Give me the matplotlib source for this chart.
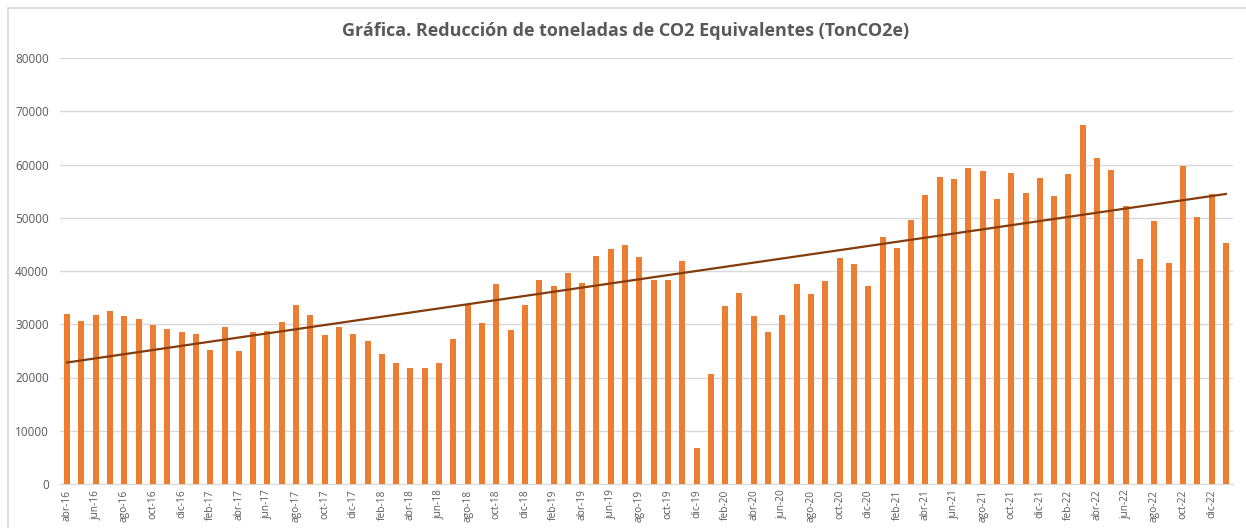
import numpy as np
import matplotlib
matplotlib.use('Agg')
from matplotlib import pyplot as plt
from matplotlib.patches import Rectangle

# monthly labels abr-16 .. ene-23
meses = ['ene', 'feb', 'mar', 'abr', 'may', 'jun', 'jul', 'ago', 'sep', 'oct', 'nov', 'dic']
etiquetas = []
for anio in range(16, 24):
    for m, mes in enumerate(meses):
        if (anio == 16 and m < 3) or (anio == 23 and m > 0):
            continue
        etiquetas.append('%s-%d' % (mes, anio))

# TonCO2e per month
valores = [31900, 30700, 31700, 32400, 31500, 30900, 29900, 29200, 28500,
           28100, 25100, 29500, 24900, 28500, 28700, 30500, 33600, 31800, 28000, 29500, 28100,
           26900, 24400, 22800, 21700, 21800, 22800, 27300, 33700, 30300, 37600, 29000, 33600,
           38400, 37200, 39700, 37800, 42900, 44100, 44900, 42600, 38400, 38400, 41900, 6800,
           20600, 33400, 35900, 31500, 28600, 31700, 37600, 35600, 38100, 42400, 41300, 37200,
           46400, 44400, 49500, 54200, 57700, 57300, 59400, 58800, 53600, 58400, 54700, 57400,
           54000, 58200, 67500, 61300, 59000, 52300, 42300, 49300, 41500, 59700, 50100, 54500,
           45300]

y_ticks = [0, 10000, 20000, 30000, 40000, 50000, 60000, 70000, 80000]
titulo = 'Gráfica. Reducción de toneladas de CO2 Equivalentes (TonCO2e)'

plt.rcParams['font.family'] = ['Open Sans', 'DejaVu Sans']

fig = plt.figure(figsize=(12.46, 5.28), dpi=100)
W, H = 1246, 528

# chart border (only top/left visible in the reference)
fig.patches.append(Rectangle((8 / W, -0.1), 1.2, 1 - 8 / H + 0.1, transform=fig.transFigure,
                             fill=False, edgecolor='#D9D9D9', linewidth=1.2))

ax = fig.add_axes([60 / W, 1 - 484 / H, (1233 - 60) / W, (484 - 58) / H])
x = np.arange(len(valores))
ax.bar(x, valores, width=0.42, color='#ED7D31', zorder=3)

# linear trendline like Excel
a, b = np.polyfit(x, valores, 1)
ax.plot([x[0], x[-1]], [a * x[0] + b, a * x[-1] + b], color='#843C0C', linewidth=1.6, zorder=4)

ax.set_xlim(-0.5, len(valores) - 0.5)
ax.set_ylim(0, 80000)
ax.set_yticks(y_ticks)
ax.set_yticklabels([str(v) for v in y_ticks], fontsize=8.5, color='#595959')
ax.set_xticks(x[::2])
ax.set_xticklabels(etiquetas[::2], rotation=90, fontsize=7.3, color='#595959')
ax.tick_params(length=0)
ax.tick_params(axis='x', pad=4)
ax.tick_params(axis='y', pad=8)
ax.grid(axis='y', color='#D9D9D9', linewidth=1, zorder=0)
for s in ['top', 'right', 'left']:
    ax.spines[s].set_visible(False)
ax.spines['bottom'].set_color('#D9D9D9')

fig.text(626 / W, 1 - 31 / H, titulo, ha='center', va='center', fontsize=13,
         fontweight='bold', color='#595959')

fig.savefig('out.png', dpi=100)
